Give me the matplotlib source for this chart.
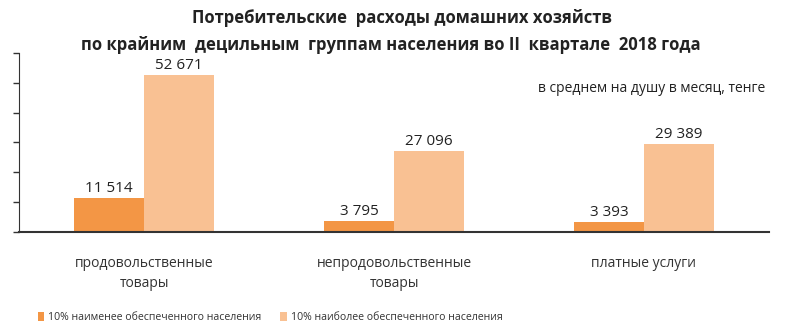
import matplotlib.pyplot as plt
import numpy as np

plt.rcParams['font.family'] = ['Open Sans', 'DejaVu Sans']

categories = ['продовольственные\nтовары', 'непродовольственные\nтовары', 'платные услуги']
poor = [11514, 3795, 3393]
rich = [52671, 27096, 29389]
labels = ['10% наименее обеспеченного населения', '10% наиболее обеспеченного населения']
c_poor = '#F39645'
c_rich = '#F9C193'

fig = plt.figure(figsize=(8, 3.29), dpi=100)
ax = fig.add_axes([0.024, 0.295, 0.937, 0.544])

x = np.arange(len(categories))
w = 0.28
b1 = ax.bar(x - w / 2, poor, w, color=c_poor, label=labels[0])
b2 = ax.bar(x + w / 2, rich, w, color=c_rich, label=labels[1])

def fmt(v):
    return f'{v:,}'.replace(',', ' ')

for bars, vals in ((b1, poor), (b2, rich)):
    for r, v in zip(bars, vals):
        ax.text(r.get_x() + r.get_width() / 2, v + 700, fmt(v), ha='center', va='bottom',
                fontsize=11, color='#222222')

ax.set_xlim(-0.5, 2.5)
ax.set_ylim(0, 60000)
ax.set_yticks(np.arange(0, 60001, 10000))
ax.set_yticklabels([])
ax.tick_params(axis='y', direction='out', length=4, width=1, color='#333333')
ax.set_xticks(x)
ax.set_xticklabels(categories, fontsize=10, color='#333333', linespacing=1.45)
ax.tick_params(axis='x', length=0, pad=17)
for s in ('top', 'right'):
    ax.spines[s].set_visible(False)
ax.spines['left'].set_color('#333333')
ax.spines['bottom'].set_color('#333333')
ax.spines['bottom'].set_linewidth(1.5)

ax.text(0.995, 0.8, 'в среднем на душу в месяц, тенге', transform=ax.transAxes,
        ha='right', va='center', fontsize=10, color='#222222')

fig.text(0.503, 0.945, 'Потребительские  расходы домашних хозяйств', ha='center', va='center',
         fontsize=12, fontweight='bold', color='#222222')
fig.text(0.488, 0.862, 'по крайним  децильным  группам населения во II  квартале  2018 года', ha='center',
         va='center', fontsize=12, fontweight='bold', color='#222222')

fig.legend(loc='lower left', bbox_to_anchor=(0.035, -0.01), ncol=2, frameon=False, fontsize=7.6,
           handlelength=0.6, handleheight=0.9, handletextpad=0.4, columnspacing=1.8,
           labelcolor='#333333')

fig.savefig('out.png', dpi=100)
